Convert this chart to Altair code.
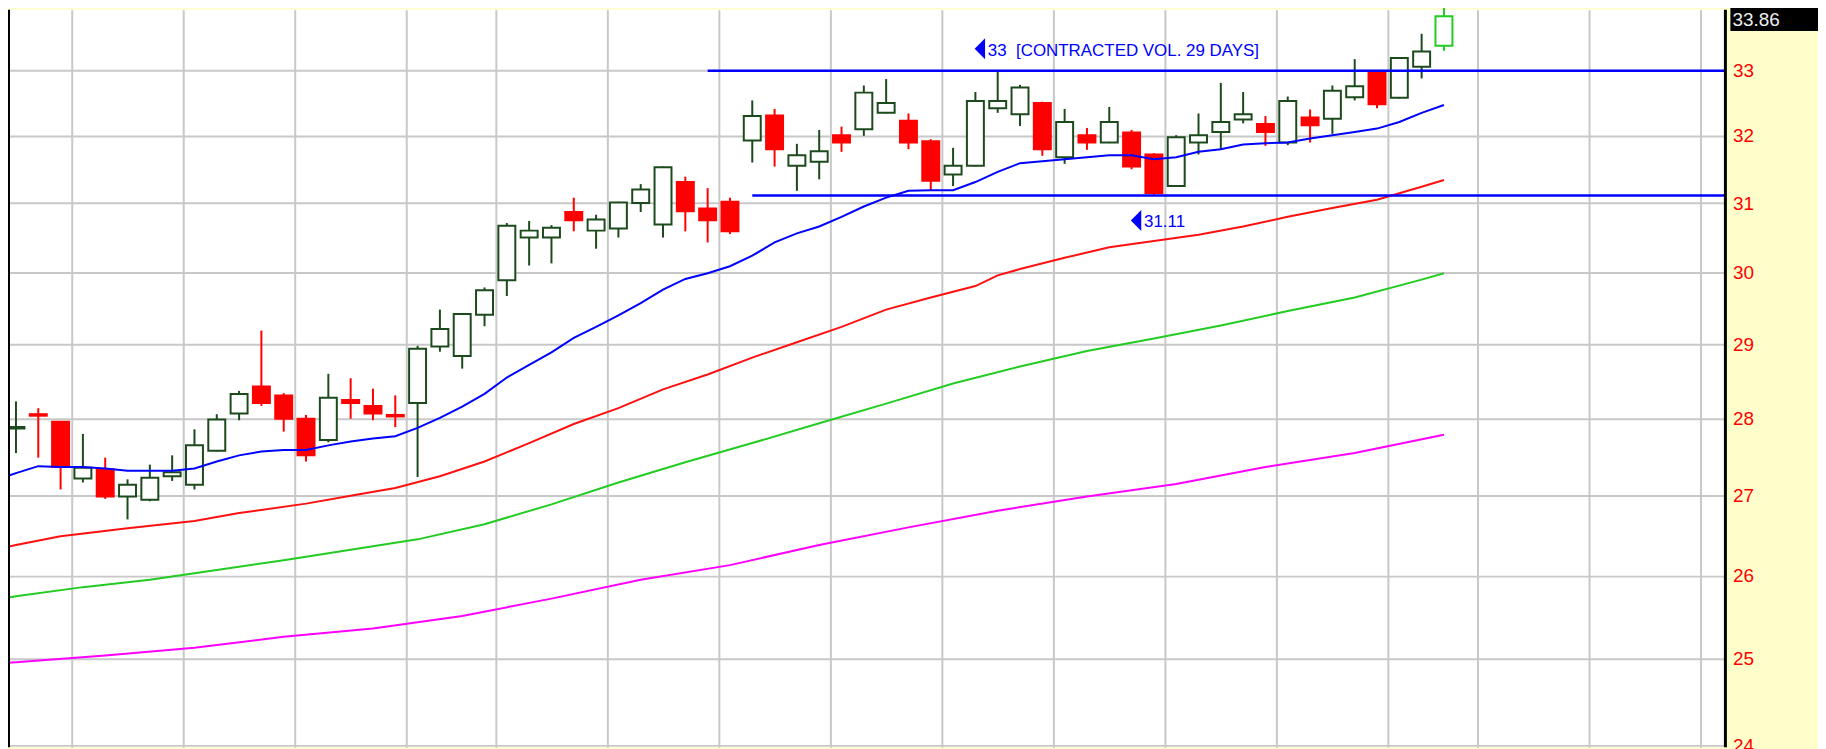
import altair as alt
import pandas as pd

# ---------------- data ----------------
day = list(range(65))
opens = [27.87, 28.06, 27.96, 27.22, 27.34, 26.99, 26.95, 27.25, 27.14, 27.58,
         28.07, 28.43, 28.31, 28.00, 27.72, 28.25, 28.17, 28.05, 28.21, 28.97,
         28.84, 29.41, 29.89, 30.50, 30.50, 30.87, 30.60, 30.63, 31.00, 30.69,
         31.31, 30.92, 31.02, 31.93, 32.31, 31.55, 31.61, 32.01, 32.10, 32.35,
         32.23, 31.92, 31.42, 31.55, 32.42, 32.33, 32.50, 31.68, 32.01, 31.90,
         32.05, 31.72, 31.25, 31.90, 32.06, 32.25, 32.18, 31.90, 32.28, 32.26,
         32.59, 32.99, 32.58, 33.06, 33.39]
highs = [28.23, 28.14, 27.97, 27.80, 27.49, 27.21, 27.40, 27.52, 27.86, 28.06,
         28.37, 29.19, 28.34, 28.05, 28.60, 28.54, 28.40, 28.31, 28.98, 29.48,
         29.43, 29.79, 30.71, 30.74, 30.68, 31.08, 30.83, 31.02, 31.28, 31.54,
         31.39, 31.22, 31.08, 32.54, 32.41, 31.88, 32.09, 32.14, 32.77, 32.87,
         32.34, 31.95, 31.82, 32.67, 33.00, 32.78, 32.52, 32.41, 32.12, 32.44,
         32.09, 31.74, 32.01, 32.34, 32.81, 32.67, 32.30, 32.60, 32.40, 32.77,
         33.18, 33.00, 33.21, 33.58, 34.03]
lows = [27.55, 27.49, 27.08, 27.17, 26.96, 26.70, 26.93, 27.19, 27.08, 27.57,
        27.98, 28.17, 27.83, 27.44, 27.69, 28.00, 27.98, 27.89, 27.24, 28.90,
        28.67, 29.25, 29.67, 30.10, 30.13, 30.59, 30.34, 30.50, 30.87, 30.50,
        30.59, 30.43, 30.55, 31.60, 31.54, 31.18, 31.35, 31.76, 32.00, 32.34,
        31.80, 31.18, 31.25, 31.54, 32.35, 32.15, 31.70, 31.58, 31.79, 31.89,
        31.50, 31.11, 31.24, 31.72, 31.80, 32.19, 31.85, 31.86, 31.90, 32.03,
        32.54, 32.42, 32.57, 32.88, 33.31]
closes = [27.89, 28.04, 27.37, 27.36, 26.99, 27.14, 27.23, 27.30, 27.65, 27.99,
          28.33, 28.21, 28.00, 27.52, 28.28, 28.21, 28.07, 28.03, 28.94, 29.21,
          29.42, 29.75, 30.67, 30.60, 30.64, 30.75, 30.76, 31.01, 31.20, 31.53,
          30.88, 30.75, 30.59, 32.30, 31.80, 31.71, 31.77, 31.90, 32.66, 32.50,
          31.90, 31.33, 31.55, 32.53, 32.53, 32.74, 31.80, 32.21, 31.90, 32.21,
          31.54, 31.15, 31.98, 32.01, 32.21, 32.33, 32.06, 32.53, 32.16, 32.69,
          32.76, 32.48, 33.20, 33.30, 33.86]

# moving averages
blue_day = list(range(-1, 65))
blue_val = [27.19, 27.29, 27.38, 27.37, 27.37, 27.35, 27.32, 27.32, 27.32, 27.35,
            27.44, 27.52, 27.57, 27.59, 27.59, 27.65, 27.70, 27.74, 27.77, 27.88,
            28.01, 28.16, 28.33, 28.55, 28.72, 28.89, 29.09, 29.24, 29.40, 29.57,
            29.76, 29.91, 29.99, 30.09, 30.24, 30.43, 30.56, 30.66, 30.80, 30.95,
            31.08, 31.18, 31.19, 31.19, 31.31, 31.46, 31.59, 31.62, 31.65, 31.68,
            31.71, 31.71, 31.65, 31.68, 31.76, 31.80, 31.87, 31.89, 31.90, 31.96,
            32.01, 32.06, 32.11, 32.21, 32.35, 32.47]
red_day = [-1, 0, 2, 5, 8, 10, 13, 15, 17, 19, 21, 23, 25, 27, 29, 31, 33, 35, 37,
           39, 41, 43, 44, 45, 47, 49, 51, 53, 55, 57, 59, 61, 63, 64]
red_val = [26.32, 26.38, 26.49, 26.59, 26.68, 26.78, 26.90, 27.00, 27.10, 27.25,
           27.44, 27.68, 27.93, 28.14, 28.39, 28.59, 28.82, 29.03, 29.24, 29.48,
           29.65, 29.81, 29.96, 30.05, 30.21, 30.36, 30.45, 30.54, 30.66, 30.80,
           30.93, 31.05, 31.24, 31.34]
green_day = [-1, 0, 3, 6, 9, 12, 15, 18, 21, 24, 27, 30, 33, 36, 39, 42, 45, 48,
             51, 54, 57, 60, 63, 64]
green_val = [25.70, 25.75, 25.86, 25.95, 26.07, 26.19, 26.32, 26.45, 26.64, 26.89,
             27.17, 27.43, 27.68, 27.94, 28.20, 28.47, 28.70, 28.91, 29.08, 29.26,
             29.46, 29.65, 29.90, 29.99]
magenta_day = [-1, 0, 4, 8, 12, 16, 20, 24, 28, 32, 36, 40, 44, 48, 52, 56, 60, 64]
magenta_val = [24.94, 24.96, 25.04, 25.13, 25.26, 25.36, 25.51, 25.72, 25.95, 26.13,
               26.38, 26.60, 26.81, 26.99, 27.15, 27.37, 27.55, 27.79]

# support / resistance levels (start day, price)
level_start = [31, 33]
level_price = [33.0, 31.11]
note_top = "33\u00a0\u00a0[CONTRACTED VOL. 29 DAYS]"
note_bottom = "31.11"
note_top_day = 43.2
note_bottom_day = 50.2

week_breaks = [2.5, 7.5, 12.5, 17.5, 21.5, 26.5, 31.5, 36.5, 41.5, 46.5,
               51.5, 56.5, 61.5, 65.5, 70.5, 75.5]
price_ticks = [24, 25, 26, 27, 28, 29, 30, 31, 32, 33]

# ---------------- layout ----------------
W, H = 1724, 741
RIGHT = 94
X_DOM = [-0.357, 76.57]
Y_DOM = [23.976, 33.965]
FONT = "Liberation Sans"

xs = alt.Scale(domain=X_DOM, nice=False, zero=False)
ys = alt.Scale(type="log", domain=Y_DOM, nice=False)
xa = alt.Axis(values=week_breaks, grid=True, labels=False, ticks=False,
              domain=False, title=None, gridColor="#c8c8c8", gridWidth=2)
ya = alt.Axis(orient="right", values=price_ticks, grid=True, gridColor="#c8c8c8",
              gridWidth=2, ticks=False, domain=False, labelColor="#ff0000",
              labelFont=FONT, labelFontSize=19, labelPadding=8, title=None)

candles = pd.DataFrame({"day": day, "open": opens, "high": highs,
                        "low": lows, "close": closes})

base = (alt.Chart(candles)
        .transform_joinaggregate(last="max(day)")
        .transform_calculate(
            kind="datum.day == datum.last ? 'last' : (datum.close >= datum.open ? 'up' : 'down')",
            xl="datum.day - 0.38", xr="datum.day + 0.38"))

kinds = ["up", "down", "last"]
stroke_scale = alt.Scale(domain=kinds, range=["#1d4a1d", "#ff0000", "#22cc22"])
fill_scale = alt.Scale(domain=kinds, range=["#ffffff", "#ff0000", "#ffffff"])

wicks = base.mark_rule(strokeWidth=2).encode(
    x=alt.X("day:Q", scale=xs, axis=xa),
    y=alt.Y("low:Q", scale=ys, axis=ya),
    y2="high:Q",
    color=alt.Color("kind:N", scale=stroke_scale, legend=None),
)
bodies = base.mark_rect(strokeWidth=2).encode(
    x=alt.X("xl:Q", scale=xs, axis=xa),
    x2="xr:Q",
    y=alt.Y("open:Q", scale=ys, axis=ya),
    y2="close:Q",
    fill=alt.Fill("kind:N", scale=fill_scale, legend=None),
    stroke=alt.Stroke("kind:N", scale=stroke_scale, legend=None),
)


def ma_layer(days, vals, color):
    df = pd.DataFrame({"day": days, "value": vals})
    return alt.Chart(df).mark_line(color=color, strokeWidth=2, clip=True).encode(
        x=alt.X("day:Q", scale=xs, axis=xa),
        y=alt.Y("value:Q", scale=ys, axis=ya),
    )


blue = ma_layer(blue_day, blue_val, "#0000ff")
red = ma_layer(red_day, red_val, "#ff1010")
green = ma_layer(green_day, green_val, "#22cc22")
magenta = ma_layer(magenta_day, magenta_val, "#ff00ff")

levels = pd.DataFrame({"start": level_start, "level": level_price})
res = alt.Chart(levels).mark_rule(color="#0000ff", strokeWidth=2.5).encode(
    x=alt.X("start:Q", scale=xs, axis=xa),
    x2=alt.value(W),
    y=alt.Y("level:Q", scale=ys, axis=ya),
)

tri_shape = "M0.5,-1L-0.5,0L0.5,1Z"
notes_top = pd.DataFrame({"day": [note_top_day], "level": [level_price[0]], "text": [note_top]})
notes_bot = pd.DataFrame({"day": [note_bottom_day], "level": [level_price[1]], "text": [note_bottom]})


def note_layers(df, dy):
    tri = alt.Chart(df).mark_point(shape=tri_shape, size=441, filled=True,
                                   color="#0000ff", opacity=1, yOffset=dy).encode(
        x=alt.X("day:Q", scale=xs, axis=xa),
        y=alt.Y("level:Q", scale=ys, axis=ya),
    )
    txt = alt.Chart(df).mark_text(align="left", baseline="middle", dx=8, dy=dy + 2,
                                  font=FONT, fontSize=17, color="#0000ff").encode(
        x=alt.X("day:Q", scale=xs, axis=xa),
        y=alt.Y("level:Q", scale=ys, axis=ya),
        text="text:N",
    )
    return [tri, txt]


last_bar = candles.tail(1)
box = alt.Chart(last_bar).mark_rule(color="black", strokeWidth=24, yOffset=3).encode(
    x=alt.value(W + 6), x2=alt.value(W + RIGHT),
    y=alt.Y("close:Q", scale=ys, axis=ya),
)
box_txt = alt.Chart(last_bar).mark_text(align="left", baseline="middle", dy=4,
                                        font=FONT, fontSize=19, color="#eeeeee").encode(
    x=alt.value(W + 8),
    y=alt.Y("close:Q", scale=ys, axis=ya),
    text=alt.Text("close:Q", format=".2f"),
)

frame = pd.DataFrame({"k": [0]})
left_border = alt.Chart(frame).mark_rule(color="black", strokeWidth=2).encode(
    x=alt.value(1), y=alt.value(0), y2=alt.value(H))
right_border = alt.Chart(frame).mark_rule(color="black", strokeWidth=3).encode(
    x=alt.value(W + 1), y=alt.value(0), y2=alt.value(H))

layers = [wicks, bodies, magenta, green, red, blue, res]
layers += note_layers(notes_top, -22)
layers += note_layers(notes_bot, 25)
layers += [box, box_txt, left_border, right_border]

chart = (alt.layer(*layers)
         .properties(width=W, height=H, background="#FFFFCC",
                     padding={"left": 0, "top": 0, "right": RIGHT, "bottom": 0},
                     autosize=alt.AutoSizeParams(type="none"))
         .configure_view(stroke=None, fill="white"))

chart.save("out.html", embed_options={"renderer": "svg", "actions": False})
